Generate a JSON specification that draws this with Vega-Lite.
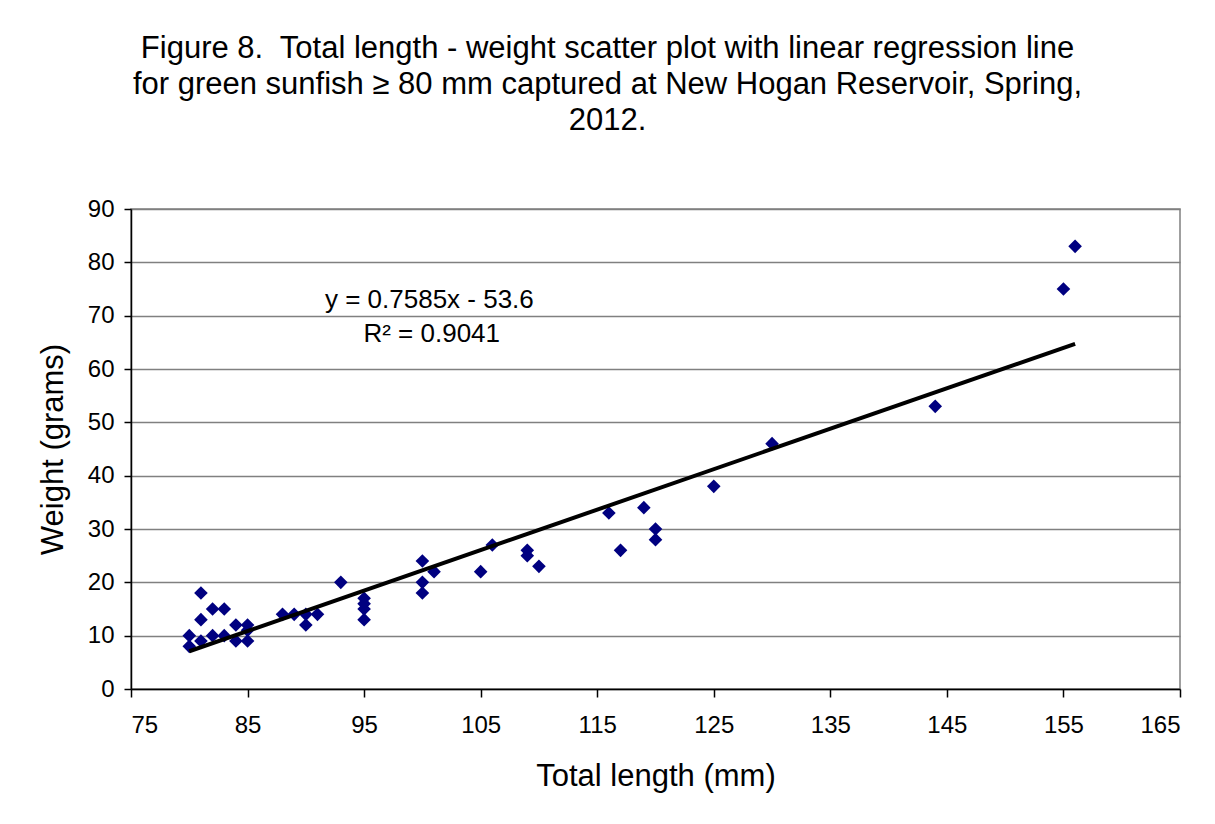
{
  "$schema": "https://vega.github.io/schema/vega-lite/v6.json",
  "width": 1049,
  "height": 480,
  "autosize": {"type": "none"},
  "padding": {"left": 131, "top": 209, "right": 35, "bottom": 135},
  "background": "white",
  "title": {
    "text": ["Figure 8.\u00a0 Total length - weight scatter plot with linear regression line", "for green sunfish ≥ 80 mm captured at New Hogan Reservoir, Spring,", "2012."],
    "anchor": "middle",
    "dx": -48,
    "offset": 60,
    "font": "Liberation Sans",
    "fontSize": 31,
    "fontWeight": "normal",
    "lineHeight": 36,
    "color": "black"
  },
  "config": {
    "view": {"stroke": "#808080", "strokeWidth": 1.5},
    "font": "Liberation Sans"
  },
  "datasets": {
    "pts": [
      {"length": 80, "weight": 10}, {"length": 80, "weight": 8},
      {"length": 81, "weight": 18}, {"length": 81, "weight": 13}, {"length": 81, "weight": 9},
      {"length": 82, "weight": 15}, {"length": 82, "weight": 10},
      {"length": 83, "weight": 15}, {"length": 83, "weight": 10},
      {"length": 84, "weight": 12}, {"length": 84, "weight": 9},
      {"length": 85, "weight": 12}, {"length": 85, "weight": 11}, {"length": 85, "weight": 9},
      {"length": 88, "weight": 14}, {"length": 89, "weight": 14},
      {"length": 90, "weight": 14}, {"length": 90, "weight": 12},
      {"length": 91, "weight": 14}, {"length": 93, "weight": 20},
      {"length": 95, "weight": 17}, {"length": 95, "weight": 16}, {"length": 95, "weight": 15}, {"length": 95, "weight": 13},
      {"length": 100, "weight": 24}, {"length": 100, "weight": 20}, {"length": 100, "weight": 18},
      {"length": 101, "weight": 22}, {"length": 105, "weight": 22}, {"length": 106, "weight": 27},
      {"length": 109, "weight": 26}, {"length": 109, "weight": 25}, {"length": 110, "weight": 23},
      {"length": 116, "weight": 33}, {"length": 117, "weight": 26}, {"length": 119, "weight": 34},
      {"length": 120, "weight": 30}, {"length": 120, "weight": 28},
      {"length": 125, "weight": 38}, {"length": 130, "weight": 46}, {"length": 144, "weight": 53},
      {"length": 155, "weight": 75}, {"length": 156, "weight": 83}
    ],
    "fit": [
      {"length": 80, "weight": 7.08},
      {"length": 156, "weight": 64.73}
    ],
    "notes": [
      {"length": 100.6, "weight": 73, "label": "y = 0.7585x - 53.6"},
      {"length": 100.8, "weight": 66.6, "label": "R² = 0.9041"}
    ]
  },
  "layer": [
    {
      "data": {"name": "pts"},
      "mark": {"type": "point", "shape": "diamond", "filled": true, "color": "#000080", "size": 185, "opacity": 1},
      "encoding": {
        "x": {
          "field": "length", "type": "quantitative",
          "scale": {"domain": [75, 165], "nice": false, "zero": false},
          "axis": {
            "title": "Total length (mm)",
            "values": [75, 85, 95, 105, 115, 125, 135, 145, 155, 165],
            "grid": false,
            "domainColor": "black", "domainWidth": 1.5,
            "tickColor": "black", "tickWidth": 1.5, "tickSize": 8,
            "labelFontSize": 24, "labelColor": "black", "labelPadding": 16,
            "titleFontSize": 31, "titleFontWeight": "normal", "titleColor": "black", "titlePadding": 24
          }
        },
        "y": {
          "field": "weight", "type": "quantitative",
          "scale": {"domain": [0, 90], "nice": false},
          "axis": {
            "title": "Weight (grams)",
            "values": [0, 10, 20, 30, 40, 50, 60, 70, 80, 90],
            "grid": true, "gridColor": "#808080", "gridWidth": 1.5,
            "domainColor": "black", "domainWidth": 1.5,
            "tickColor": "black", "tickWidth": 1.5, "tickSize": 7,
            "labelFontSize": 24, "labelColor": "black", "labelPadding": 10,
            "titleFontSize": 31, "titleFontWeight": "normal", "titleColor": "black", "titlePadding": 18
          }
        }
      }
    },
    {
      "data": {"name": "fit"},
      "mark": {"type": "line", "color": "black", "strokeWidth": 4},
      "encoding": {
        "x": {"field": "length", "type": "quantitative"},
        "y": {"field": "weight", "type": "quantitative"}
      }
    },
    {
      "data": {"name": "notes"},
      "mark": {"type": "text", "fontSize": 26, "color": "black", "align": "center", "baseline": "middle"},
      "encoding": {
        "x": {"field": "length", "type": "quantitative"},
        "y": {"field": "weight", "type": "quantitative"},
        "text": {"field": "label"}
      }
    }
  ]
}
